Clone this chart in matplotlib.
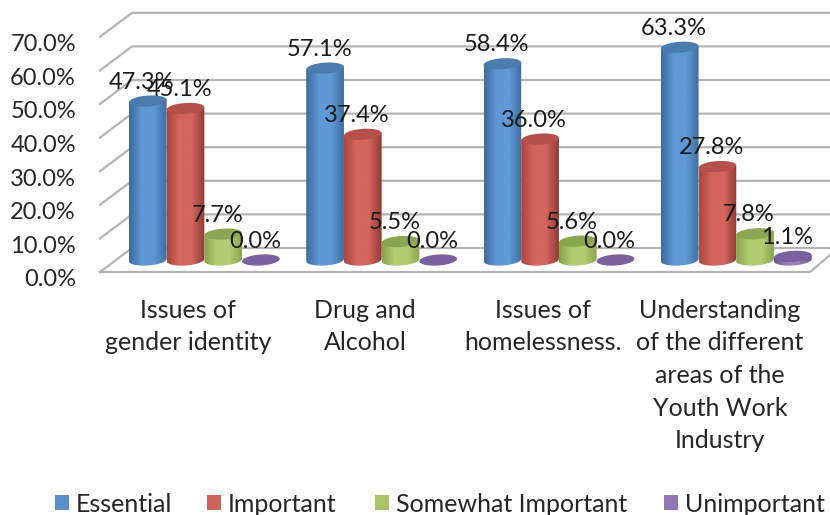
import numpy as np
import matplotlib
matplotlib.use("Agg")
import matplotlib.pyplot as plt
from matplotlib.colors import LinearSegmentedColormap
from matplotlib.patches import Polygon, Rectangle

plt.rcParams['font.family'] = ['Lato', 'DejaVu Sans']

categories = ["Issues of\ngender identity", "Drug and\nAlcohol", "Issues of\nhomelessness.",
              "Understanding\nof the different\nareas of the\nYouth Work\nIndustry"]
series_names = ["Essential", "Important", "Somewhat Important", "Unimportant"]
essential = [47.3, 57.1, 58.4, 63.3]
important = [45.1, 37.4, 36.0, 27.8]
somewhat = [7.7, 5.5, 5.6, 7.8]
unimportant = [0.0, 0.0, 0.0, 1.1]
y_ticks = [0, 10, 20, 30, 40, 50, 60, 70]

series = [essential, important, somewhat, unimportant]
legend_colors = ["#5b8fc7", "#cd645c", "#a9c468", "#9278b3"]
# edge, middle, edge of the shading across each cylinder, then the lid colour
shades = [("#3c6a9c", "#5f98d6", "#3f6f9f", "#4a7cae"),
          ("#a8473f", "#d3655d", "#8f3b36", "#b6504a"),
          ("#87a34c", "#b2cc72", "#8ba650", "#8aa650"),
          ("#6d5290", "#9a80bb", "#6d5290", "#7b5f9e")]

W, H = 830, 515
PX_PER_UNIT = 3.36     # pixels per percentage point
PX_PER_CAT = 177.3     # pixels between groups
ZERO_X, ZERO_Y = 204, 260

fig = plt.figure(figsize=(W / 100, H / 100), dpi=100)
ax = fig.add_axes([0, 0, 1, 1])
ax.axis('off')
xlim = (-ZERO_X / PX_PER_CAT, (W - ZERO_X) / PX_PER_CAT)
ylim = ((ZERO_Y - H) / PX_PER_UNIT, ZERO_Y / PX_PER_UNIT)


def px(n):
    return n / PX_PER_CAT


def pv(n):
    return n / PX_PER_UNIT


# walls and floor
grid = "#b4b4b4"
depth = pv(12)
left, back = px(100 - ZERO_X), px(132 - ZERO_X)
for v in y_ticks:
    ax.plot([left, back, xlim[1]], [v - depth, v + depth, v + depth], color=grid, lw=1.6, zorder=1)
    ax.text(px(76 - ZERO_X), v - pv(20), f"{v:.1f}%", ha='right', va='center', fontsize=17, color="#262626")
floor_end = px(810 - ZERO_X)
ax.plot([left, floor_end, xlim[1]], [-depth, -depth, pv(5)], color=grid, lw=1.6, zorder=1)

# cylinders
bar_w = px(37.7)
rx = bar_w / 2
ry = pv(5.5)
tilt = pv(1.2)
t = np.linspace(0, 2 * np.pi, 121)
for j, values in enumerate(series):
    edge_l, mid, edge_r, lid = shades[j]
    cmap = LinearSegmentedColormap.from_list("cyl", [edge_l, mid, mid, edge_r], N=64)
    for i, val in enumerate(values):
        cx = i + px(-75 + 18.8) + j * bar_w
        z = 10 + i * 4 + j
        lid_x = cx + rx * np.cos(t)
        lid_y = val + ry * np.sin(t) + tilt * np.cos(t)
        if val > 0:
            lower = t[60:121]
            outline = np.column_stack([
                np.r_[cx + rx * np.cos(lower), cx + rx, cx - rx],
                np.r_[ry * np.sin(lower) + tilt * np.cos(lower), val + tilt, val - tilt]])
            body = Polygon(outline, closed=True, fc='none', ec='none', zorder=z)
            ax.add_patch(body)
            im = ax.imshow(np.linspace(0, 1, 64)[None, :], cmap=cmap, aspect='auto', zorder=z,
                           extent=(cx - rx, cx + rx, -ry - tilt, val + tilt))
            im.set_clip_path(body)
        ax.add_patch(Polygon(np.column_stack([lid_x, lid_y]), closed=True, fc=lid, ec='none', zorder=z + 0.5))
        # value label sits above the lid, a little to the left
        ax.text(cx + px(-6), val + pv(19), f"{val:.1f}%", ha='center', va='center',
                fontsize=17, color="#1a1a1a", zorder=50)

# category labels
for i, name in enumerate(categories):
    ax.text(i + px(-16), pv(260 - 299), name, ha='center', va='top', fontsize=18,
            color="#262626", linespacing=1.5, zorder=50)

# legend
swatch_x = [55, 207, 375, 664]
for x0, name, c in zip(swatch_x, series_names, legend_colors):
    ax.add_patch(Rectangle((px(x0 - ZERO_X), pv(260 - 510)), px(14), pv(15), fc=c, ec='none'))
    ax.text(px(x0 + 21 - ZERO_X), pv(260 - 504), name, ha='left', va='center', fontsize=18, color="#262626")

ax.set_xlim(*xlim)
ax.set_ylim(*ylim)
fig.savefig("out.png", dpi=100)
